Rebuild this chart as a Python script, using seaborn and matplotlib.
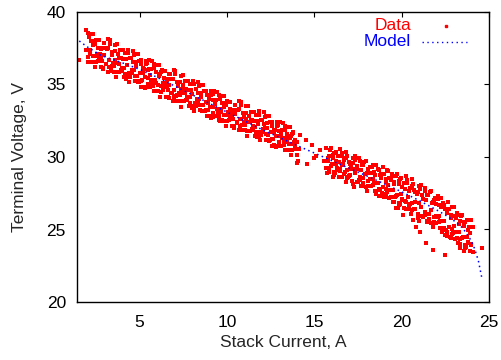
import pandas as pd
import matplotlib
matplotlib.use('Agg')
import matplotlib.pyplot as plt
import seaborn as sns

lower_left_x = [1.91, 2.03, 2.10, 2.31, 2.21, 2.14, 2.48, 2.59, 2.43, 2.66, 2.78, 2.85,
                3.06, 2.96, 2.89, 3.23, 3.34, 3.18, 3.41, 3.53, 3.60, 3.81, 3.71, 3.64,
                3.98, 4.09, 3.93, 4.16, 4.28, 4.35, 4.56, 4.46, 4.39, 4.73, 4.84, 4.68,
                4.91, 5.03, 5.10, 5.31, 5.21, 5.14, 5.48, 5.59, 5.43, 5.66, 5.78, 5.85,
                6.06, 5.96, 5.89, 6.23, 6.34, 6.18, 6.41, 6.53, 6.60, 6.81, 6.71, 6.64,
                6.98, 7.09, 6.93, 7.16, 7.28, 7.35, 7.56, 7.46, 7.39, 7.73, 7.84, 7.68,
                7.91, 8.03, 8.10, 8.31, 8.21, 8.14, 8.48, 8.59, 8.43, 8.66, 8.78, 8.85,
                9.06, 8.96, 8.89, 9.23, 9.34, 9.18, 9.41, 9.53, 9.60, 9.81, 9.71, 9.64,
                9.98, 10.09, 9.93, 10.16, 10.28, 10.35, 10.56, 10.46, 10.39, 10.73, 10.84, 10.68,
                10.91, 11.03, 11.10, 11.31, 11.21, 11.14, 11.48, 11.59, 11.43, 11.66, 11.78, 11.85,
                12.06, 11.96, 11.89, 12.23, 12.34, 12.18, 12.41, 12.53, 12.60, 12.81, 12.71, 12.64,
                12.98, 13.09, 12.93, 13.16, 13.28, 13.35, 13.56, 13.46, 13.39, 13.73, 13.84, 13.68,
                13.91, 14.03, 14.10]
lower_left_y = [37.35, 36.90, 36.55, 36.97, 36.57, 37.37, 36.53, 37.13, 36.18, 36.85, 36.20, 36.65,
                36.41, 37.01, 36.16, 36.68, 36.23, 35.88, 36.29, 35.89, 36.69, 35.86, 36.46, 35.51,
                36.17, 35.52, 35.97, 35.74, 36.34, 35.49, 36.00, 35.55, 35.20, 35.62, 35.22, 36.02,
                35.18, 35.78, 34.83, 35.50, 34.85, 35.30, 35.06, 35.66, 34.81, 35.33, 34.88, 34.53,
                34.94, 34.54, 35.34, 34.51, 35.11, 34.16, 34.82, 34.17, 34.62, 34.39, 34.99, 34.14,
                34.65, 34.20, 33.85, 34.27, 33.87, 34.67, 33.83, 34.43, 33.48, 34.15, 33.50, 33.95,
                33.71, 34.31, 33.46, 33.98, 33.53, 33.18, 33.59, 33.19, 33.99, 33.16, 33.76, 32.81,
                33.47, 32.82, 33.27, 33.04, 33.64, 32.79, 33.30, 32.85, 32.50, 32.92, 32.52, 33.32,
                32.48, 33.08, 32.13, 32.80, 32.15, 32.60, 32.36, 32.96, 32.11, 32.63, 32.18, 31.83,
                32.24, 31.84, 32.64, 31.81, 32.41, 31.46, 32.12, 31.47, 31.92, 31.69, 32.29, 31.44,
                31.95, 31.50, 31.15, 31.57, 31.17, 31.97, 31.13, 31.73, 30.78, 31.45, 30.80, 31.25,
                31.01, 31.61, 30.76, 31.28, 30.83, 30.48, 30.89, 30.49, 31.29, 30.46, 31.06, 30.11,
                30.77, 30.12, 30.57]
lower_left_x2 = [2.17, 2.06, 2.33, 2.48, 2.74, 2.62, 2.92, 2.81, 3.08, 3.23, 3.49, 3.37,
                 3.67, 3.56, 3.83, 3.98, 4.24, 4.12, 4.42, 4.31, 4.58, 4.73, 4.99, 4.87,
                 5.17, 5.06, 5.33, 5.48, 5.74, 5.62, 5.92, 5.81, 6.08, 6.23, 6.49, 6.37,
                 6.67, 6.56, 6.83, 6.98, 7.24, 7.12, 7.42, 7.31, 7.58, 7.73, 7.99, 7.87,
                 8.17, 8.06, 8.33, 8.48, 8.74, 8.62, 8.92, 8.81, 9.08, 9.23, 9.49, 9.37,
                 9.67, 9.56, 9.83, 9.98, 10.24, 10.12, 10.42, 10.31, 10.58, 10.73, 10.99, 10.87,
                 11.17, 11.06, 11.33, 11.48, 11.74, 11.62, 11.92, 11.81, 12.08, 12.23, 12.49, 12.37,
                 12.67, 12.56, 12.83, 12.98, 13.24, 13.12, 13.42, 13.31, 13.58, 13.73, 13.99, 13.87]
lower_left_y2 = [37.13, 36.58, 36.55, 36.95, 37.11, 36.61, 36.08, 36.83, 36.44, 36.19, 36.46, 35.91,
                 35.87, 36.27, 36.44, 35.94, 35.40, 36.15, 35.77, 35.52, 35.78, 35.23, 35.20, 35.60,
                 35.76, 35.26, 34.73, 35.48, 35.09, 34.84, 35.11, 34.56, 34.52, 34.92, 35.09, 34.59,
                 34.05, 34.80, 34.42, 34.17, 34.43, 33.88, 33.85, 34.25, 34.41, 33.91, 33.38, 34.13,
                 33.74, 33.49, 33.76, 33.21, 33.17, 33.57, 33.74, 33.24, 32.70, 33.45, 33.07, 32.82,
                 33.08, 32.53, 32.50, 32.90, 33.06, 32.56, 32.03, 32.78, 32.39, 32.14, 32.41, 31.86,
                 31.82, 32.22, 32.39, 31.89, 31.35, 32.10, 31.72, 31.47, 31.73, 31.18, 31.15, 31.55,
                 31.71, 31.21, 30.68, 31.43, 31.04, 30.79, 31.06, 30.51, 30.47, 30.87, 31.04, 30.54]

upper_left_x = [2.07, 2.21, 2.47, 2.35, 2.53, 2.65, 2.82, 2.96, 3.22, 3.10, 3.28, 3.40,
                3.57, 3.71, 3.97, 3.85, 4.03, 4.15, 4.32, 4.46, 4.72, 4.60, 4.78, 4.90,
                5.07, 5.21, 5.47, 5.35, 5.53, 5.65, 5.82, 5.96, 6.22, 6.10, 6.28, 6.40,
                6.57, 6.71, 6.97, 6.85, 7.03, 7.15, 7.32, 7.46, 7.72, 7.60, 7.78, 7.90,
                8.07, 8.21, 8.47, 8.35, 8.53, 8.65, 8.82, 8.96, 9.22, 9.10, 9.28, 9.40,
                9.57, 9.71, 9.97, 9.85, 10.03, 10.15, 10.32, 10.46, 10.72, 10.60, 10.78, 10.90,
                11.07, 11.21, 11.47, 11.35, 11.53, 11.65, 11.82, 11.96, 12.22, 12.10, 12.28, 12.40,
                12.57, 12.71, 12.97, 12.85, 13.03, 13.15, 13.32, 13.46, 13.72, 13.60, 13.78, 13.90]
upper_left_y = [38.53, 37.98, 37.99, 38.49, 38.10, 37.55, 37.45, 37.85, 38.11, 37.51, 37.82, 37.27,
                37.28, 37.78, 37.39, 36.84, 36.74, 37.14, 37.40, 36.80, 37.11, 36.56, 36.57, 37.07,
                36.68, 36.13, 36.03, 36.43, 36.69, 36.09, 36.40, 35.85, 35.86, 36.36, 35.97, 35.42,
                35.32, 35.72, 35.98, 35.38, 35.69, 35.14, 35.15, 35.65, 35.26, 34.71, 34.61, 35.01,
                35.27, 34.67, 34.98, 34.43, 34.44, 34.94, 34.55, 34.00, 33.90, 34.30, 34.56, 33.96,
                34.27, 33.72, 33.73, 34.23, 33.84, 33.29, 33.19, 33.59, 33.85, 33.25, 33.56, 33.01,
                33.02, 33.52, 33.13, 32.58, 32.48, 32.88, 33.14, 32.54, 32.85, 32.30, 32.31, 32.81,
                32.42, 31.87, 31.77, 32.17, 32.43, 31.83, 32.14, 31.59, 31.60, 32.10, 31.71, 31.16]
upper_left_x2 = [1.95, 2.10, 2.36, 2.24, 2.54, 2.43, 2.70, 2.85, 3.11, 2.99, 3.29, 3.18,
                 3.45, 3.60, 3.86, 3.74, 4.04, 3.93, 4.20, 4.35, 4.61, 4.49, 4.79, 4.68,
                 4.95, 5.10, 5.36, 5.24, 5.54, 5.43, 5.70, 5.85, 6.11, 5.99, 6.29, 6.18,
                 6.45, 6.60, 6.86, 6.74, 7.04, 6.93, 7.20, 7.35, 7.61, 7.49, 7.79, 7.68,
                 7.95, 8.10, 8.36, 8.24, 8.54, 8.43, 8.70, 8.85, 9.11, 8.99, 9.29, 9.18,
                 9.45, 9.60, 9.86, 9.74, 10.04, 9.93, 10.20, 10.35, 10.61, 10.49, 10.79, 10.68,
                 10.95, 11.10, 11.36, 11.24, 11.54, 11.43, 11.70, 11.85, 12.11, 11.99, 12.29, 12.18,
                 12.45, 12.60, 12.86, 12.74, 13.04, 12.93, 13.20, 13.35, 13.61, 13.49, 13.79, 13.68]
upper_left_y2 = [38.75, 38.25, 37.71, 38.46, 38.07, 37.82, 38.07, 37.52, 37.48, 37.88, 38.04, 37.54,
                 37.00, 37.75, 37.36, 37.11, 37.36, 36.81, 36.77, 37.17, 37.33, 36.83, 36.29, 37.04,
                 36.65, 36.40, 36.65, 36.10, 36.06, 36.46, 36.62, 36.12, 35.58, 36.33, 35.94, 35.69,
                 35.94, 35.39, 35.35, 35.75, 35.91, 35.41, 34.87, 35.62, 35.23, 34.98, 35.23, 34.68,
                 34.64, 35.04, 35.20, 34.70, 34.16, 34.91, 34.52, 34.27, 34.52, 33.97, 33.93, 34.33,
                 34.49, 33.99, 33.45, 34.20, 33.81, 33.56, 33.81, 33.26, 33.22, 33.62, 33.78, 33.28,
                 32.74, 33.49, 33.10, 32.85, 33.10, 32.55, 32.51, 32.91, 33.07, 32.57, 32.03, 32.78,
                 32.39, 32.14, 32.39, 31.84, 31.80, 32.20, 32.36, 31.86, 31.32, 32.07, 31.68, 31.43]

upper_right_x = [15.69, 15.83, 16.09, 15.97, 16.15, 16.27, 16.44, 16.58, 16.84, 16.72, 16.90, 17.02,
                 17.19, 17.33, 17.59, 17.47, 17.65, 17.77, 17.94, 18.08, 18.34, 18.22, 18.40, 18.52,
                 18.69, 18.83, 19.09, 18.97, 19.15, 19.27, 19.44, 19.58, 19.84, 19.72, 19.90, 20.02,
                 20.19, 20.33, 20.59, 20.47, 20.65, 20.77, 20.94, 21.08, 21.34, 21.22, 21.40, 21.52,
                 21.69, 21.83, 22.09, 21.97, 22.15, 22.27, 22.44, 22.58, 22.84, 22.72, 22.90, 23.02,
                 23.19, 23.33, 23.59, 23.47, 23.65, 23.77, 23.94, 24.08]
upper_right_y = [30.65, 30.10, 30.15, 30.65, 30.29, 29.74, 29.68, 30.08, 30.36, 29.76, 30.10, 29.55,
                 29.58, 30.08, 29.70, 29.15, 29.08, 29.48, 29.75, 29.15, 29.48, 28.93, 28.95, 29.45,
                 29.08, 28.53, 28.45, 28.85, 29.13, 28.53, 28.85, 28.30, 28.33, 28.83, 28.45, 27.90,
                 27.80, 28.20, 28.45, 27.85, 28.15, 27.60, 27.60, 28.10, 27.68, 27.13, 27.00, 27.40,
                 27.63, 27.03, 27.30, 26.75, 26.68, 27.18, 26.70, 26.15, 25.98, 26.38, 26.55, 25.95,
                 26.15, 25.60, 25.50, 26.00, 25.50, 24.95, 24.75, 25.15]
upper_right_x2 = [15.92, 15.81, 16.08, 16.23, 16.49, 16.37, 16.67, 16.56, 16.83, 16.98, 17.24, 17.12,
                  17.42, 17.31, 17.58, 17.73, 17.99, 17.87, 18.17, 18.06, 18.33, 18.48, 18.74, 18.62,
                  18.92, 18.81, 19.08, 19.23, 19.49, 19.37, 19.67, 19.56, 19.83, 19.98, 20.24, 20.12,
                  20.42, 20.31, 20.58, 20.73, 20.99, 20.87, 21.17, 21.06, 21.33, 21.48, 21.74, 21.62,
                  21.92, 21.81, 22.08, 22.23, 22.49, 22.37, 22.67, 22.56, 22.83, 22.98, 23.24, 23.12,
                  23.42, 23.31, 23.58, 23.73, 23.99, 23.87]
upper_right_y2 = [30.50, 29.95, 29.95, 30.35, 30.54, 30.04, 29.52, 30.27, 29.91, 29.66, 29.94, 29.39,
                  29.37, 29.77, 29.94, 29.44, 28.92, 29.67, 29.29, 29.04, 29.32, 28.77, 28.74, 29.14,
                  29.32, 28.82, 28.29, 29.04, 28.67, 28.42, 28.69, 28.14, 28.12, 28.52, 28.68, 28.18,
                  27.63, 28.38, 27.98, 27.73, 27.98, 27.43, 27.37, 27.77, 27.89, 27.39, 26.82, 27.57,
                  27.14, 26.89, 27.09, 26.54, 26.42, 26.82, 26.89, 26.39, 25.77, 26.52, 26.03, 25.78,
                  25.93, 25.38, 25.23, 25.63, 25.68, 25.18]

lower_right_x = [15.54, 15.66, 15.73, 15.94, 15.84, 15.77, 16.11, 16.22, 16.06, 16.29, 16.41, 16.48,
                 16.69, 16.59, 16.52, 16.86, 16.97, 16.81, 17.04, 17.16, 17.23, 17.44, 17.34, 17.27,
                 17.61, 17.72, 17.56, 17.79, 17.91, 17.98, 18.19, 18.09, 18.02, 18.36, 18.47, 18.31,
                 18.54, 18.66, 18.73, 18.94, 18.84, 18.77, 19.11, 19.22, 19.06, 19.29, 19.41, 19.48,
                 19.69, 19.59, 19.52, 19.86, 19.97, 19.81, 20.04, 20.16, 20.23, 20.44, 20.34, 20.27,
                 20.61, 20.72, 20.56, 20.79, 20.91, 20.98, 21.19, 21.09, 21.02, 21.36, 21.47, 21.31,
                 21.54, 21.66, 21.73, 21.94, 21.84, 21.77, 22.11, 22.22, 22.06, 22.29, 22.41, 22.48,
                 22.69, 22.59, 22.52, 22.86, 22.97, 22.81, 23.04, 23.16, 23.23, 23.44, 23.34, 23.27,
                 23.61, 23.72, 23.56, 23.79, 23.91, 23.98]
lower_right_y = [29.70, 29.25, 28.90, 29.35, 28.95, 29.75, 28.94, 29.54, 28.59, 29.26, 28.61, 29.06,
                 28.84, 29.44, 28.59, 29.11, 28.66, 28.31, 28.74, 28.34, 29.14, 28.31, 28.91, 27.96,
                 28.64, 27.99, 28.44, 28.21, 28.81, 27.96, 28.48, 28.03, 27.68, 28.08, 27.68, 28.48,
                 27.63, 28.23, 27.28, 27.93, 27.28, 27.73, 27.47, 28.07, 27.22, 27.71, 27.26, 26.91,
                 27.29, 26.89, 27.69, 26.83, 27.43, 26.48, 27.11, 26.46, 26.91, 26.64, 27.24, 26.39,
                 26.86, 26.41, 26.06, 26.44, 26.04, 26.84, 25.96, 26.56, 25.61, 26.22, 25.57, 26.02,
                 25.73, 26.33, 25.48, 25.94, 25.49, 25.14, 25.49, 25.09, 25.89, 24.96, 25.56, 24.61,
                 25.19, 24.54, 24.99, 24.66, 25.26, 24.41, 24.85, 24.40, 24.05, 24.40, 24.00, 24.80,
                 23.90, 24.50, 23.55, 24.15, 23.50, 23.95]
lower_right_x2 = [15.70, 15.85, 16.11, 15.99, 16.29, 16.18, 16.45, 16.60, 16.86, 16.74, 17.04, 16.93,
                  17.20, 17.35, 17.61, 17.49, 17.79, 17.68, 17.95, 18.10, 18.36, 18.24, 18.54, 18.43,
                  18.70, 18.85, 19.11, 18.99, 19.29, 19.18, 19.45, 19.60, 19.86, 19.74, 20.04, 19.93,
                  20.20, 20.35, 20.61, 20.49, 20.79, 20.68, 20.95, 21.10, 21.36, 21.24, 21.54, 21.43,
                  21.70, 21.85, 22.11, 21.99, 22.29, 22.18, 22.45, 22.60, 22.86, 22.74, 23.04, 22.93,
                  23.20, 23.35, 23.61, 23.49, 23.79, 23.68, 23.95, 24.10]
lower_right_y2 = [29.75, 29.25, 28.75, 29.50, 29.13, 28.88, 29.15, 28.60, 28.58, 28.98, 29.15, 28.65,
                  28.13, 28.88, 28.50, 28.25, 28.53, 27.98, 27.95, 28.35, 28.50, 28.00, 27.45, 28.20,
                  27.80, 27.55, 27.80, 27.25, 27.19, 27.59, 27.73, 27.23, 26.66, 27.41, 27.00, 26.75,
                  26.98, 26.43, 26.35, 26.75, 26.88, 26.38, 25.80, 26.55, 26.11, 25.86, 26.08, 25.53,
                  25.44, 25.84, 25.95, 25.45, 24.83, 25.58, 25.10, 24.85, 25.03, 24.48, 24.35, 24.75,
                  24.85, 24.35, 23.75, 24.50, 24.05, 23.80, 24.00, 23.45]

stray_x = [1.55, 14.07, 14.20, 14.00, 14.86, 14.50, 15.10, 15.30, 15.00, 14.60, 19.70, 20.66,
           21.05, 21.40, 21.80, 22.50, 20.85, 20.10, 23.35, 24.60]
stray_y = [36.70, 29.70, 31.50, 29.60, 30.80, 31.20, 30.10, 30.50, 29.90, 29.50, 26.46, 25.66,
           24.85, 24.05, 23.60, 23.24, 25.20, 26.00, 23.70, 23.70]

# fitted model curve
model_x = [1.55, 2.0, 2.8, 4.0, 5.0, 6.0, 8.0, 10.0, 12.0, 14.0, 16.0, 18.0, 20.0,
           21.0, 22.0, 22.5, 23.0, 23.5, 24.0, 24.2, 24.4, 24.6]
model_y = [38.0, 37.6, 37.0, 36.5, 36.05, 35.5, 34.3, 33.1, 31.9, 30.8, 29.75, 28.7, 27.6,
           27.0, 26.35, 26.0, 25.6, 25.1, 24.2, 23.6, 22.8, 21.6]

data = pd.DataFrame({
    'current': (lower_left_x + lower_left_x2 + upper_left_x + upper_left_x2 + upper_right_x
                + upper_right_x2 + lower_right_x + lower_right_x2 + stray_x),
    'voltage': (lower_left_y + lower_left_y2 + upper_left_y + upper_left_y2 + upper_right_y
                + upper_right_y2 + lower_right_y + lower_right_y2 + stray_y),
})
model = pd.DataFrame({'current': model_x, 'voltage': model_y})

sns.set_theme(style='white')
plt.rcParams['font.family'] = ['Liberation Sans', 'DejaVu Sans']

fig = plt.figure(figsize=(5.02, 3.6), dpi=100)
ax = fig.add_axes([0.1534, 0.1611, 0.8207, 0.8056])

sns.scatterplot(data=data, x='current', y='voltage', ax=ax, color='#ff0000',
                marker='s', s=6, linewidth=0, legend=False, zorder=2)
sns.lineplot(data=model, x='current', y='voltage', ax=ax, color='#0000ff',
             linewidth=1.1, linestyle=(0, (1, 2.2)), sort=False, legend=False,
             estimator=None, zorder=3)

ax.set_xlim(1.42, 25)
ax.set_ylim(20, 40)
ax.set_xticks([5, 10, 15, 20, 25])
ax.set_yticks([20, 25, 30, 35, 40])
ax.tick_params(direction='in', length=3.5, width=0.8, colors='black',
               labelsize=12.5, top=True, right=True)
ax.tick_params(axis='y', pad=8)
ax.tick_params(axis='x', pad=9)
for sp in ax.spines.values():
    sp.set_visible(True)
    sp.set_color('black')
    sp.set_linewidth(1.0)

ax.set_xlabel('Stack Current, A', fontsize=12.5, labelpad=4)
ax.set_ylabel('Terminal Voltage, V', fontsize=12.5, labelpad=14)

# gnuplot style key, right aligned text with sample after it
ax.text(0.811, 0.952, 'Data', color='#ff0000', fontsize=12.5, ha='right',
        va='center', transform=ax.transAxes)
ax.text(0.811, 0.897, 'Model', color='#0000ff', fontsize=12.5, ha='right',
        va='center', transform=ax.transAxes)
ax.plot([0.896], [0.952], marker='s', markersize=1.5, color='#ff0000',
        linestyle='none', transform=ax.transAxes)
ax.plot([0.837, 0.947], [0.897, 0.897], color='#0000ff', linewidth=1.0,
        linestyle=(0, (1, 2.5)), transform=ax.transAxes)

fig.savefig('out.png', dpi=100)
